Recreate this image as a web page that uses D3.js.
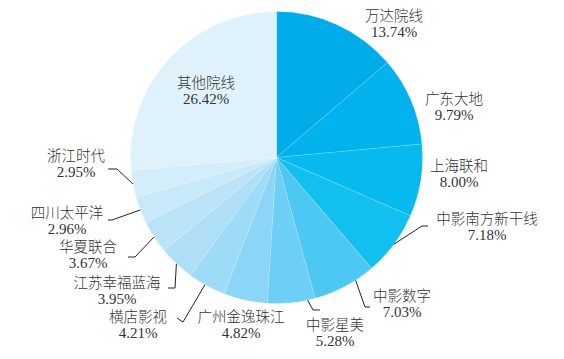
<!DOCTYPE html>
<html>
<head>
<meta charset="utf-8">
<script src="https://cdn.jsdelivr.net/npm/d3@7"></script>
<style>
  html, body { margin: 0; padding: 0; background: #fff; }
  svg { display: block; }
  text { font-family: "Liberation Serif", "Noto Sans CJK SC", serif; font-size: 15px; fill: #333; }
  tspan.name { font-family: "Noto Sans CJK SC", sans-serif; font-weight: 300; font-size: 14.5px; }
  tspan.pct { font-family: "Liberation Serif", "Times New Roman", serif; font-weight: 400; }
</style>
</head>
<body>
<svg id="chart" width="564" height="359"></svg>
<script>
// ---- data ----
const categories = ["万达院线", "广东大地", "上海联和", "中影南方新干线", "中影数字", "中影星美",
  "广州金逸珠江", "横店影视", "江苏幸福蓝海", "华夏联合", "四川太平洋", "浙江时代", "其他院线"];
const shares = [13.74, 9.79, 8.00, 7.18, 7.03, 5.28, 4.82, 4.21, 3.95, 3.67, 2.96, 2.95, 26.42];
const shareLabels = ["13.74%", "9.79%", "8.00%", "7.18%", "7.03%", "5.28%", "4.82%", "4.21%",
  "3.95%", "3.67%", "2.96%", "2.95%", "26.42%"];

// ---- styles / layout ----
const colors = ["#00ADEA", "#02B2EC", "#06B9EE", "#12C0F0", "#4DC8F3", "#6DCFF5", "#8BD6F6",
  "#9EDBF7", "#AEDFF7", "#BCE4F8", "#C8E9F9", "#D3EDFA", "#DFF2FB"];
// label centre x, first-line baseline y
const labelPos = [[394, 21], [454, 104], [459, 171], [487, 224], [402, 301], [335, 330],
  [241, 322], [138, 322], [117, 288], [88, 252], [67, 218], [76, 161], [206, 88]];
// leader: fraction inside slice for start, elbow point, end point
const leaders = [null, null, null,
  {t: 0.5, elbow: [422, 226], end: [428, 226]},
  {t: 0.31, elbow: [365, 307], end: [370, 307]},
  {t: 0.16, elbow: [313, 310], end: [320, 310]},
  null,
  {t: 0.55, elbow: [183, 322], end: [177, 318]},
  {t: 0.5, elbow: [175, 288], end: [168, 288]},
  {t: 0.5, elbow: [135, 257], end: [128, 257]},
  {t: 0.5, elbow: [112, 220], end: [108, 220]},
  {t: 0.5, elbow: [117, 169], end: [108, 169]},
  null];

const cx = 276.5, cy = 157.5, R = 146;

const data = categories.map((c, i) => ({name: c, value: shares[i], label: shareLabels[i], idx: i}));
const pie = d3.pie().sort(null).value(d => d.value).startAngle(0).endAngle(2 * Math.PI);
const arcs = pie(data);
const arc = d3.arc().innerRadius(0).outerRadius(R);

const svg = d3.select("#chart");
const g = svg.append("g").attr("transform", `translate(${cx},${cy})`);

g.selectAll("path.slice").data(arcs).enter().append("path")
  .attr("class", "slice")
  .attr("d", arc)
  .attr("fill", d => colors[d.data.idx])
  .attr("stroke", "#ffffff")
  .attr("stroke-opacity", 0.3)
  .attr("stroke-width", 0.5);

// leaders
arcs.forEach(a => {
  const L = leaders[a.data.idx];
  if (!L) return;
  const ang = a.startAngle + (a.endAngle - a.startAngle) * L.t;
  const sx = cx + R * Math.sin(ang), sy = cy - R * Math.cos(ang);
  svg.append("polyline")
    .attr("points", [[sx, sy], L.elbow, L.end].map(p => p.join(",")).join(" "))
    .attr("fill", "none")
    .attr("stroke", "#222")
    .attr("stroke-width", 1);
});

// labels
const lab = svg.selectAll("text.lab").data(data).enter().append("text")
  .attr("class", "lab")
  .attr("text-anchor", "middle")
  .attr("x", d => labelPos[d.idx][0])
  .attr("y", d => labelPos[d.idx][1]);
lab.append("tspan").attr("class", "name").attr("x", d => labelPos[d.idx][0]).text(d => d.name);
lab.append("tspan").attr("class", "pct").attr("x", d => labelPos[d.idx][0]).attr("dy", 16).text(d => d.label);
</script>
</body>
</html>
